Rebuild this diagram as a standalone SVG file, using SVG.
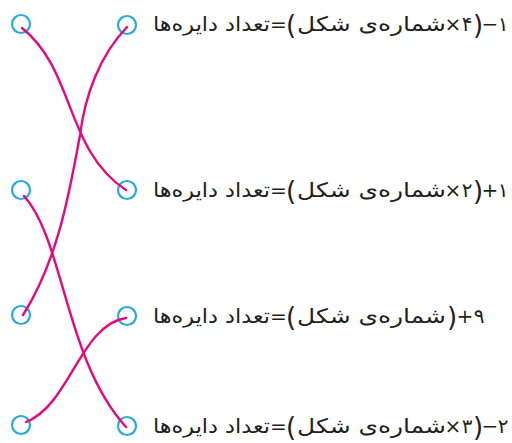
<svg xmlns="http://www.w3.org/2000/svg" width="512" height="443" viewBox="0 0 512 443">
<style>
.c{fill:#fff;stroke:#29a9e0;stroke-width:2.2}
.l{fill:none;stroke:#e5097f;stroke-width:2.4;stroke-linecap:round}
text{font-family:"DejaVu Sans",sans-serif;font-size:20px;fill:#231f20}
.a{text-anchor:start}
.s{text-anchor:middle}
.p{text-anchor:middle;font-size:26px}
</style>
<rect width="512" height="443" fill="#fff"/>
<g id="left1"><circle class="c" cx="21" cy="24" r="9"/></g>
<g id="left2"><circle class="c" cx="21" cy="190" r="9"/></g>
<g id="left3"><circle class="c" cx="21" cy="315" r="9"/></g>
<g id="left4"><circle class="c" cx="21" cy="425" r="9"/></g>
<g id="right1">
<circle class="c" cx="127" cy="25" r="9"/>
<text class="a" x="153" y="31" textLength="117" lengthAdjust="spacingAndGlyphs">تعداد دایره‌ها</text>
<text class="s" x="278.5" y="31">=</text>
<text class="p" x="291" y="34">(</text>
<text class="a" x="297" y="31" textLength="149" lengthAdjust="spacingAndGlyphs">شماره‌ی شکل</text>
<text class="s" x="453" y="31">×</text>
<text class="s" x="467" y="31">۴</text>
<text class="p" x="478" y="34">)</text>
<text class="s" x="490" y="31">−</text>
<text class="s" x="503" y="31">۱</text>
</g>
<g id="right2">
<circle class="c" cx="127" cy="190" r="9"/>
<text class="a" x="153" y="197" textLength="117" lengthAdjust="spacingAndGlyphs">تعداد دایره‌ها</text>
<text class="s" x="278.5" y="197">=</text>
<text class="p" x="291" y="200">(</text>
<text class="a" x="297" y="197" textLength="149" lengthAdjust="spacingAndGlyphs">شماره‌ی شکل</text>
<text class="s" x="453" y="197">×</text>
<text class="s" x="467" y="197">۲</text>
<text class="p" x="478" y="200">)</text>
<text class="s" x="490" y="197">+</text>
<text class="s" x="503" y="197">۱</text>
</g>
<g id="right3">
<circle class="c" cx="127" cy="316" r="9"/>
<text class="a" x="153" y="323" textLength="117" lengthAdjust="spacingAndGlyphs">تعداد دایره‌ها</text>
<text class="s" x="278.5" y="323">=</text>
<text class="p" x="291" y="326">(</text>
<text class="a" x="297" y="323" textLength="149" lengthAdjust="spacingAndGlyphs">شماره‌ی شکل</text>
<text class="p" x="452" y="326">)</text>
<text class="s" x="465" y="323">+</text>
<text class="s" x="479" y="323">۹</text>
</g>
<g id="right4">
<circle class="c" cx="127" cy="426" r="9"/>
<text class="a" x="153" y="433" textLength="117" lengthAdjust="spacingAndGlyphs">تعداد دایره‌ها</text>
<text class="s" x="278.5" y="433">=</text>
<text class="p" x="291" y="436">(</text>
<text class="a" x="297" y="433" textLength="149" lengthAdjust="spacingAndGlyphs">شماره‌ی شکل</text>
<text class="s" x="453" y="433">×</text>
<text class="s" x="467" y="433">۳</text>
<text class="p" x="478" y="436">)</text>
<text class="s" x="490" y="433">−</text>
<text class="s" x="503" y="433">۲</text>
</g>
<g id="connectors">
<path class="l" d="M22,28 C75,70 65,150 126,190"/>
<path class="l" d="M127,27 C100,55 85,95 80,135 C70,190 58,260 23,315"/>
<path class="l" d="M24,196 C64,240 65,360 126,427"/>
<path class="l" d="M26,422 C70,405 80,325 126,318"/>
</g>
</svg>
